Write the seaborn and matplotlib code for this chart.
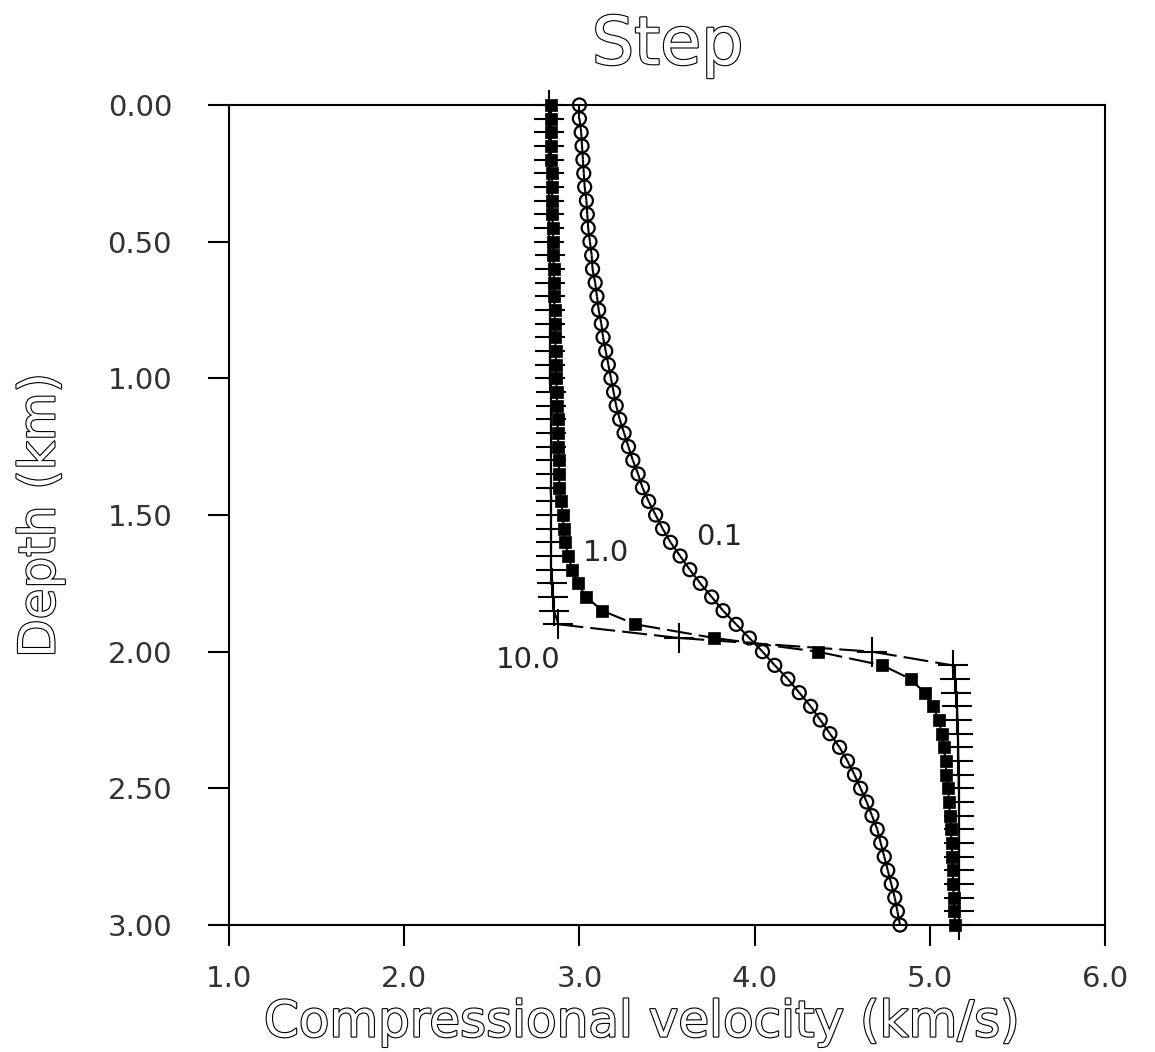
import numpy as np
import pandas as pd
import matplotlib
matplotlib.use("Agg")
import matplotlib.pyplot as plt
import matplotlib.patheffects as pe
import seaborn as sns

# depth samples (km), one every 0.05 km
depth = [
    0.00, 0.05, 0.10, 0.15, 0.20, 0.25, 0.30, 0.35, 0.40, 0.45,
    0.50, 0.55, 0.60, 0.65, 0.70, 0.75, 0.80, 0.85, 0.90, 0.95,
    1.00, 1.05, 1.10, 1.15, 1.20, 1.25, 1.30, 1.35, 1.40, 1.45,
    1.50, 1.55, 1.60, 1.65, 1.70, 1.75, 1.80, 1.85, 1.90, 1.95,
    2.00, 2.05, 2.10, 2.15, 2.20, 2.25, 2.30, 2.35, 2.40, 2.45,
    2.50, 2.55, 2.60, 2.65, 2.70, 2.75, 2.80, 2.85, 2.90, 2.95,
    3.00,
]

# velocity profiles (km/s) for smoothing 0.1, 1.0 and 10.0
vel_01 = [
    3.000, 3.000, 3.010, 3.015, 3.020, 3.025, 3.030, 3.040, 3.045, 3.050,
    3.060, 3.070, 3.075, 3.090, 3.100, 3.110, 3.125, 3.135, 3.150, 3.165,
    3.180, 3.195, 3.210, 3.230, 3.255, 3.280, 3.305, 3.335, 3.360, 3.395,
    3.435, 3.475, 3.520, 3.575, 3.630, 3.690, 3.755, 3.820, 3.895, 3.970,
    4.045, 4.115, 4.190, 4.255, 4.320, 4.375, 4.430, 4.485, 4.530, 4.570,
    4.605, 4.640, 4.670, 4.700, 4.720, 4.740, 4.760, 4.780, 4.800, 4.815,
    4.830,
]
vel_1 = [
    2.840, 2.840, 2.840, 2.840, 2.840, 2.842, 2.843, 2.845, 2.846, 2.848,
    2.850, 2.852, 2.853, 2.855, 2.857, 2.858, 2.860, 2.862, 2.864, 2.866,
    2.868, 2.870, 2.872, 2.875, 2.877, 2.880, 2.882, 2.884, 2.886, 2.895,
    2.905, 2.910, 2.920, 2.935, 2.960, 2.990, 3.040, 3.130, 3.320, 3.770,
    4.360, 4.730, 4.890, 4.970, 5.020, 5.050, 5.070, 5.080, 5.090, 5.095,
    5.105, 5.110, 5.115, 5.120, 5.125, 5.128, 5.130, 5.133, 5.137, 5.140,
    5.143,
]
vel_10 = [
    2.825, 2.825, 2.825, 2.825, 2.825, 2.825, 2.825, 2.825, 2.825, 2.825,
    2.825, 2.830, 2.830, 2.830, 2.830, 2.830, 2.830, 2.830, 2.830, 2.830,
    2.830, 2.835, 2.835, 2.835, 2.835, 2.835, 2.835, 2.835, 2.835, 2.840,
    2.840, 2.840, 2.840, 2.840, 2.840, 2.845, 2.850, 2.855, 2.880, 3.570,
    4.670, 5.130, 5.145, 5.150, 5.155, 5.158, 5.160, 5.162, 5.163, 5.164,
    5.165, 5.165, 5.165, 5.165, 5.165, 5.165, 5.165, 5.165, 5.165, 5.165,
    5.165,
]

curve_labels = ["0.1", "1.0", "10.0"]
x_ticks = [1.0, 2.0, 3.0, 4.0, 5.0, 6.0]
y_ticks = [0.0, 0.5, 1.0, 1.5, 2.0, 2.5, 3.0]


def segments(vel, name):
    # one short unit per pair of neighbours so the dash pattern restarts
    rows = []
    for i in range(len(vel) - 1):
        for j in (i, i + 1):
            rows.append({"curve": name, "seg": i, "v": vel[j], "z": depth[j]})
    return pd.DataFrame(rows)


sns.set_theme(style="white")
plt.rcParams["font.family"] = ["DejaVu Sans"]

fig = plt.figure(figsize=(11.55, 10.52), dpi=100)
ax = fig.add_axes([0.1983, 0.1207, 0.7584, 0.7795])

dash = (0, (12, 3.4))
for vel, name in [(vel_01, "0.1"), (vel_1, "1.0"), (vel_10, "10.0")]:
    sns.lineplot(data=segments(vel, name), x="v", y="z", units="seg",
                 estimator=None, sort=False, color="black", linewidth=1.5,
                 linestyle=dash, ax=ax, legend=False)

sns.scatterplot(x=vel_01, y=depth, marker="o", s=88, facecolors="none",
                edgecolor="black", linewidth=1.6, ax=ax, clip_on=False,
                zorder=3)
sns.scatterplot(x=vel_1, y=depth, marker="s", s=70, color="black",
                edgecolor="black", linewidth=0.5, ax=ax, clip_on=False,
                zorder=3)
sns.scatterplot(x=vel_10, y=depth, marker="+", s=470, color="black",
                linewidth=1.5, ax=ax, clip_on=False, zorder=3)

ax.text(3.80, 1.58, curve_labels[0], fontsize=21, ha="center", va="center")
ax.text(3.15, 1.64, curve_labels[1], fontsize=21, ha="center", va="center")
ax.text(2.71, 2.03, curve_labels[2], fontsize=21, ha="center", va="center")

ax.set_xlim(1.0, 6.0)
ax.set_ylim(3.0, 0.0)
ax.set_xticks(x_ticks)
ax.set_xticklabels([f"{t:.1f}" for t in x_ticks], color="#333333")
ax.set_yticks(y_ticks)
ax.set_yticklabels([f"{t:.2f}" for t in y_ticks], color="#333333")
ax.tick_params(axis="x", direction="out", length=15, width=1.5, pad=14,
               labelsize=21, bottom=True, color="black")
ax.tick_params(axis="y", direction="out", length=15, width=1.5, pad=26,
               labelsize=21, left=True, color="black")
for s in ax.spines.values():
    s.set_color("black")
    s.set_linewidth(1.5)
ax.set_xlabel("")
ax.set_ylabel("")

outline = [pe.Stroke(linewidth=1.6, foreground="black"), pe.Normal()]
fig.text(0.578, 0.957, "Step", fontsize=48, ha="center", va="center",
         color="white", path_effects=outline)
fig.text(0.556, 0.028, "Compressional velocity (km/s)", fontsize=36,
         ha="center", va="center", color="white", path_effects=outline)
fig.text(0.035, 0.51, "Depth (km)", fontsize=36, rotation=90,
         ha="center", va="center", color="white", path_effects=outline)

fig.savefig("out.png", dpi=100)
